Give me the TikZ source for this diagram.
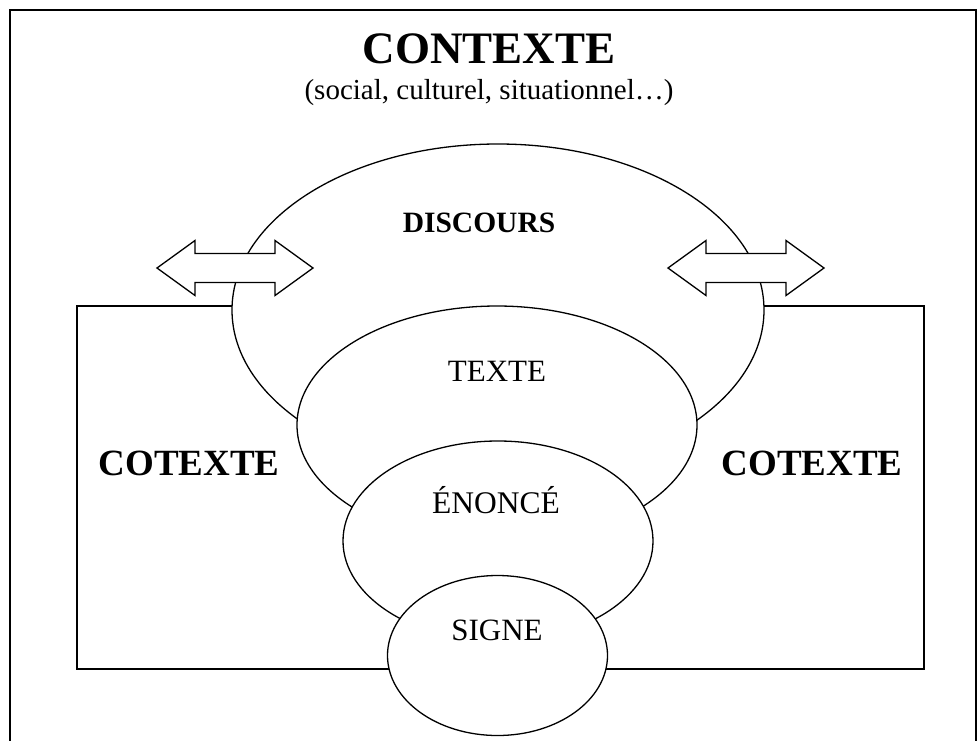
\documentclass[tikz,border=0pt]{standalone}
\usepackage{fontspec}
\setmainfont{Liberation Serif}
\usetikzlibrary{shapes.geometric}
\tikzset{
  shp/.style={draw, fill=white, line width=1.3pt},
  oval/.style={shp, ellipse, inner sep=0pt},
  lbl/.style={anchor=base, inner sep=0pt},
  dblarrow/.pic={\draw[shp, line join=miter] (-78,0) -- (-40,-27.5) -- (-40,-14.5) -- (40,-14.5) -- (40,-27.5) -- (78,0) -- (40,27.5) -- (40,14.5) -- (-40,14.5) -- (-40,27.5) -- cycle;}
}
\newcommand{\fs}[1]{\fontsize{#1}{#1}\selectfont}
\begin{document}
\begin{tikzpicture}[x=1pt,y=-1pt]
\useasboundingbox (0,0) rectangle (978,740);
% outer frame
\draw[line width=2pt] (10,760) -- (10,10) -- (976,10) -- (976,760);
% cotexte rectangle
\draw[line width=1.3pt] (77,306) rectangle (924,669);
% ellipses
\node[oval, minimum width=532pt, minimum height=332pt] (discours) at (498,310) {};
\node[oval, minimum width=400pt, minimum height=238pt] (texte) at (497,425) {};
\node[oval, minimum width=310pt, minimum height=200pt] (enonce) at (498,541) {};
\node[oval, minimum width=220pt, minimum height=160pt] (signe) at (497.5,655.5) {};
% double arrows
\pic at (235,268) {dblarrow};
\pic at (746,268) {dblarrow};
% labels
\node[lbl] (contexte) at (489,63) {\fs{45}\bfseries CONTEXTE};
\node[lbl] (sous) at (489,99) {\fs{29}(social, culturel, situationnel…)};
\node[lbl] (ldiscours) at (479,232) {\fs{29.5}\bfseries DISCOURS};
\node[lbl] (ltexte) at (497,381) {\fs{31}TEXTE};
\node[lbl] (lenonce) at (496,513) {\fs{31.5}ÉNONCÉ};
\node[lbl] (lsigne) at (497,640) {\fs{31}SIGNE};
\node[lbl] (cotg) at (189,475) {\fs{37}\bfseries COTEXTE};
\node[lbl] (cotd) at (812,475) {\fs{37}\bfseries COTEXTE};
\end{tikzpicture}
\end{document}
